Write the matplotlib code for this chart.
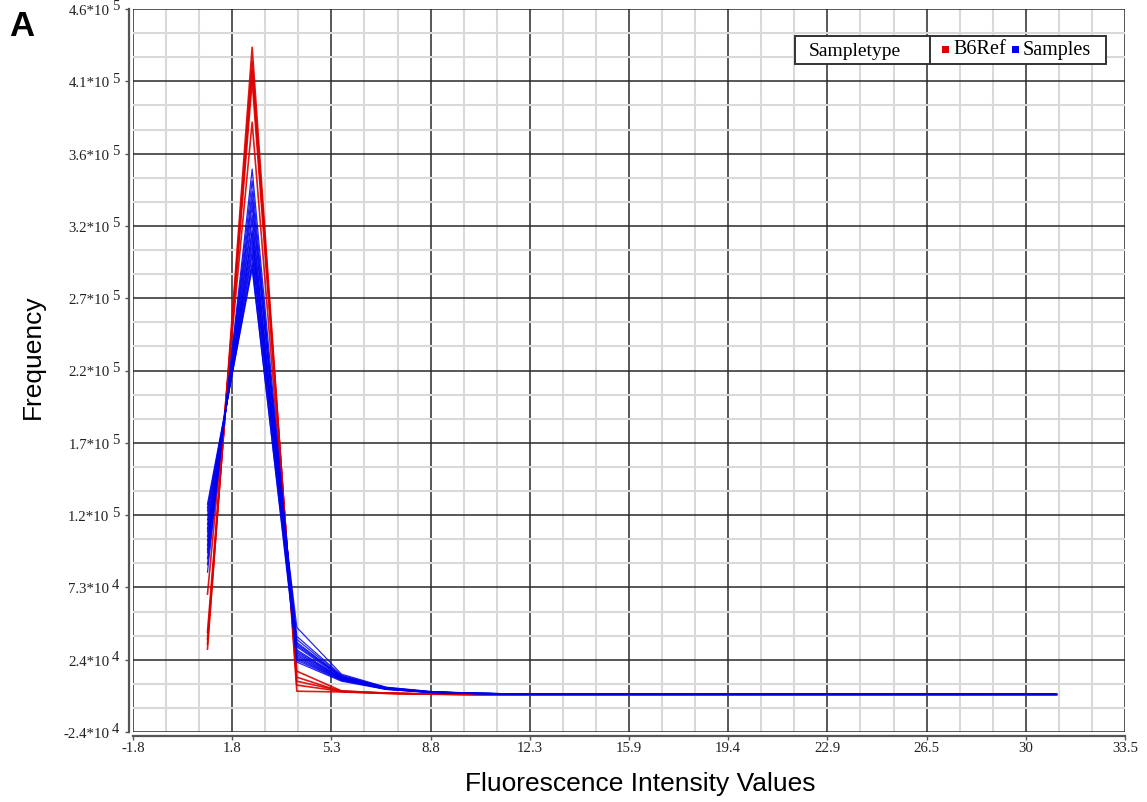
import matplotlib
matplotlib.use("Agg")
import matplotlib.pyplot as plt
from matplotlib.patches import Rectangle
from matplotlib.lines import Line2D
import numpy as np

plt.rcParams['font.family'] = ['Liberation Serif', 'DejaVu Serif']
plt.rcParams['axes.unicode_minus'] = False

# ---------------- data ----------------
x_values = [0.85, 2.44, 4.03, 5.62, 7.21, 8.80, 10.39, 11.98, 13.57, 15.16,
            16.75, 18.34, 19.93, 21.52, 23.11, 24.70, 26.29, 27.88, 29.47, 31.06]

b6ref_series = [
    [31500, 434400, 3300, 2800, 1800, 1300, 1100, 1000, 1000, 1000, 1000, 1000, 1000, 1000, 1000, 1000, 1000, 1000, 1000, 1000],
    [34800, 425100, 7400, 3200, 2000, 1400, 1100, 1000, 1000, 1000, 1000, 1000, 1000, 1000, 1000, 1000, 1000, 1000, 1000, 1000],
    [38200, 418400, 10000, 3400, 2000, 1400, 1100, 1000, 1000, 1000, 1000, 1000, 1000, 1000, 1000, 1000, 1000, 1000, 1000, 1000],
    [42800, 411700, 12700, 3000, 1900, 1300, 1100, 1000, 1000, 1000, 1000, 1000, 1000, 1000, 1000, 1000, 1000, 1000, 1000, 1000],
    [68300, 384200, 16700, 3500, 2100, 1400, 1100, 1000, 1000, 1000, 1000, 1000, 1000, 1000, 1000, 1000, 1000, 1000, 1000, 1000],
]

samples_series = [
    [83000, 352800, 30000, 12000, 5000, 2600, 1800, 1500, 1400, 1300, 1200, 1200, 1200, 1200, 1200, 1200, 1200, 1200, 1200, 1200],
    [88000, 345000, 26000, 11000, 4800, 2500, 1800, 1500, 1400, 1300, 1200, 1200, 1200, 1200, 1200, 1200, 1200, 1200, 1200, 1200],
    [92000, 338000, 33000, 12500, 5200, 2700, 1800, 1500, 1400, 1300, 1200, 1200, 1200, 1200, 1200, 1200, 1200, 1200, 1200, 1200],
    [96000, 332800, 28000, 11500, 5000, 2600, 1800, 1500, 1400, 1300, 1200, 1200, 1200, 1200, 1200, 1200, 1200, 1200, 1200, 1200],
    [98000, 328000, 36000, 13000, 5500, 2800, 1900, 1500, 1400, 1300, 1200, 1200, 1200, 1200, 1200, 1200, 1200, 1200, 1200, 1200],
    [101000, 322000, 24000, 10500, 4600, 2400, 1700, 1500, 1400, 1300, 1200, 1200, 1200, 1200, 1200, 1200, 1200, 1200, 1200, 1200],
    [104000, 318000, 31000, 12000, 5100, 2700, 1800, 1500, 1400, 1300, 1200, 1200, 1200, 1200, 1200, 1200, 1200, 1200, 1200, 1200],
    [107000, 312000, 38000, 13500, 5600, 2900, 1900, 1500, 1400, 1300, 1200, 1200, 1200, 1200, 1200, 1200, 1200, 1200, 1200, 1200],
    [110000, 310000, 22800, 10000, 4500, 2400, 1700, 1500, 1400, 1300, 1200, 1200, 1200, 1200, 1200, 1200, 1200, 1200, 1200, 1200],
    [112000, 306000, 34000, 12800, 5300, 2800, 1900, 1500, 1400, 1300, 1200, 1200, 1200, 1200, 1200, 1200, 1200, 1200, 1200, 1200],
    [115000, 302000, 40000, 14000, 5800, 3000, 1900, 1500, 1400, 1300, 1200, 1200, 1200, 1200, 1200, 1200, 1200, 1200, 1200, 1200],
    [118000, 298000, 27000, 11200, 4900, 2600, 1800, 1500, 1400, 1300, 1200, 1200, 1200, 1200, 1200, 1200, 1200, 1200, 1200, 1200],
    [121000, 295000, 46000, 14700, 6000, 3100, 2000, 1500, 1400, 1300, 1200, 1200, 1200, 1200, 1200, 1200, 1200, 1200, 1200, 1200],
    [124000, 290600, 35000, 13200, 5400, 2800, 1900, 1500, 1400, 1300, 1200, 1200, 1200, 1200, 1200, 1200, 1200, 1200, 1200, 1200],
    [126000, 288000, 25000, 10800, 4700, 2500, 1800, 1500, 1400, 1300, 1200, 1200, 1200, 1200, 1200, 1200, 1200, 1200, 1200, 1200],
    [128500, 286000, 29000, 11800, 5000, 2600, 1800, 1500, 1400, 1300, 1200, 1200, 1200, 1200, 1200, 1200, 1200, 1200, 1200, 1200],
]

x_tick_labels = ['-1.8', '1.8', '5.3', '8.8', '12.3', '15.9', '19.4', '22.9', '26.5', '30', '33.5']
y_tick_mant = ['-2.4*10', '2.4*10', '7.3*10', '1.2*10', '1.7*10', '2.2*10', '2.7*10',
               '3.2*10', '3.6*10', '4.1*10', '4.6*10']
y_tick_exp = ['4', '4', '4', '5', '5', '5', '5', '5', '5', '5', '5']

legend_title = 'Sampletype'
legend_names = ['B6Ref', 'Samples']
red = '#dd0000'
blue = '#0000ee'

# ---------------- figure ----------------
W, H = 1147, 803
fig = plt.figure(figsize=(W / 100, H / 100), dpi=100)
fig.patch.set_facecolor('white')
ax = fig.add_axes([133 / W, 1 - 733 / H, (1125 - 133) / W, (733 - 10) / H])

xmin, xmax = -1.8, 33.5
ymin, ymax = -24000, 460000
ax.set_xlim(xmin, xmax)
ax.set_ylim(ymin, ymax)

yt = np.linspace(ymin, ymax, 11)
ax.set_xticks(np.linspace(xmin, xmax, 11))
ax.set_xticks(np.linspace(xmin, xmax, 31), minor=True)
ax.set_yticks(yt)
ax.set_yticks(np.linspace(ymin, ymax, 31), minor=True)

ax.set_xticklabels(x_tick_labels)
ax.set_yticklabels(y_tick_mant)

ax.grid(which='minor', color='#d9d9d9', lw=1.5, zorder=0)
ax.grid(which='major', color='#2a2a2a', lw=1.1, zorder=0.5)
ax.set_axisbelow(True)

for s in ['top', 'right']:
    ax.spines[s].set_visible(False)
for s in ['left', 'bottom']:
    ax.spines[s].set_position(('outward', 3))
    ax.spines[s].set_color('#555555')
    ax.spines[s].set_linewidth(1.6)

ax.tick_params(which='major', direction='out', length=3, width=1.0, color='#555555',
               labelcolor='#222222', labelsize=10.7)
ax.tick_params(axis='x', which='major', pad=0.5)
ax.tick_params(axis='y', which='major', pad=11)
ax.tick_params(which='minor', length=0)

# superscript exponents of y tick labels
for yv, e in zip(yt, y_tick_exp):
    ax.annotate(e, xy=(0, yv), xycoords=('axes fraction', 'data'), xytext=(-21, 3),
                textcoords='offset pixels', ha='left', va='center', fontsize=10.5,
                color='#222222', annotation_clip=False)

for ys in b6ref_series:
    ax.plot(x_values, ys, color=red, lw=1.2, alpha=0.9, zorder=2)
for ys in samples_series:
    ax.plot(x_values, ys, color=blue, lw=0.9, alpha=0.85, zorder=3)

# axis titles
fig.text(33 / W, 1 - 357 / H, 'Frequency', rotation=90, family='Liberation Sans',
         fontsize=19, ha='center', va='center')
fig.text(640 / W, 1 - 784 / H, 'Fluorescence Intensity Values', family='Liberation Sans',
         fontsize=19, ha='center', va='center')
fig.text(9 / W, 1 - 27 / H, 'A', family='Liberation Sans', fontsize=25, weight='bold',
         ha='left', va='center')

# legend box
def fx(px):
    return px / W

def fy(py):
    return 1 - py / H

box = Rectangle((fx(795), fy(65)), fx(1106) - fx(795), fy(37) - fy(65), transform=fig.transFigure,
                facecolor='white', edgecolor='#333333', lw=1.4, zorder=10)
fig.add_artist(box)
fig.add_artist(Line2D([fx(930), fx(930)], [fy(37), fy(65)], transform=fig.transFigure,
                      color='#333333', lw=1.4, zorder=11))
fig.text(fx(809), fy(51), legend_title, fontsize=14,
         ha='left', va='center', zorder=12)
sq = 7
for cx, tx, col, name in [(942, 953, red, legend_names[0]), (1012, 1023, blue, legend_names[1])]:
    fig.add_artist(Rectangle((fx(cx), fy(54)), sq / W, sq / H, transform=fig.transFigure,
                             facecolor=col, edgecolor='none', zorder=12))
    fig.text(fx(tx), fy(50), name, fontsize=14.5,
             ha='left', va='center', zorder=12)

fig.savefig('out.png', dpi=100, facecolor='white')
